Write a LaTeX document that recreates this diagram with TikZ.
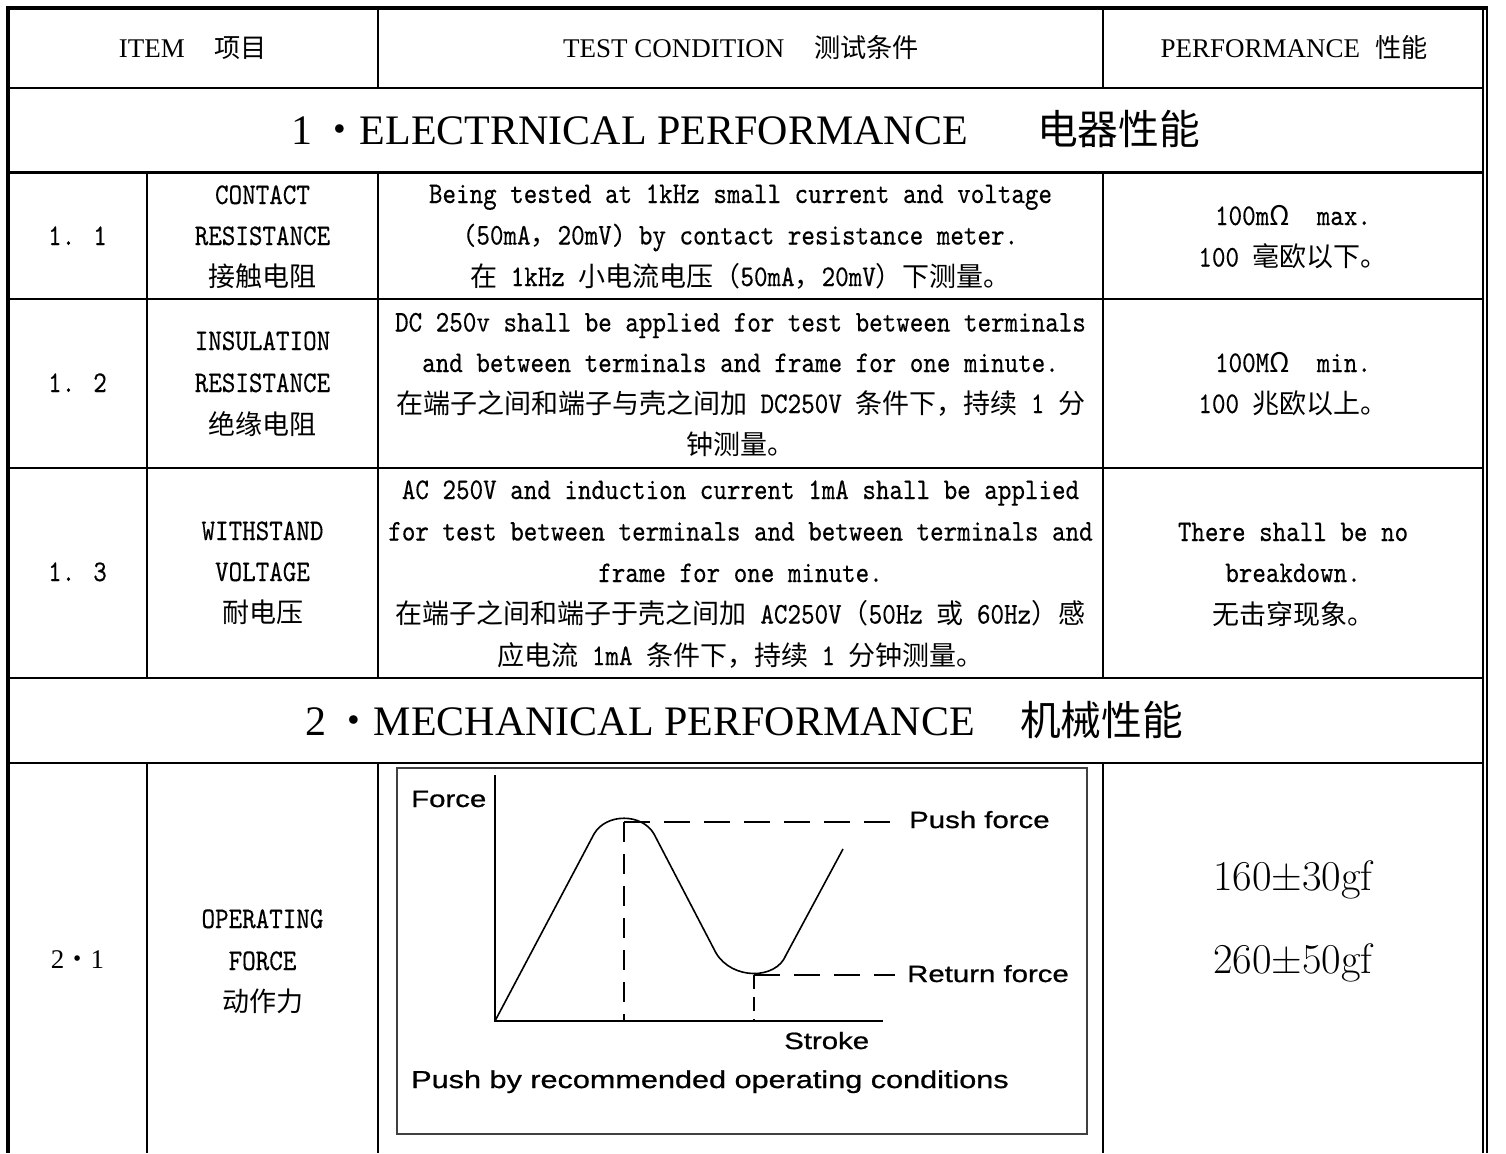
\documentclass[tikz,border=0pt]{standalone}
\usepackage{fontspec}
\newfontfamily\serf{Liberation Serif}
\newfontfamily\monof[FakeStretch=0.86,FakeBold=0.3]{lmmono10-regular.otf}
\newfontfamily\cjkf[Scale=0.97]{Noto Sans CJK SC}
\newfontfamily\cjkb[Scale=0.9]{Noto Sans CJK SC}
\newfontfamily\chartf[FakeStretch=1.25,FakeBold=0.8]{Liberation Sans}
\let\cjfont\cjkf
\newcommand\cj[1]{{\cjfont #1}}
\tikzset{
  gridline/.style={line width=2.4pt},
  outerline/.style={line width=4pt},
  body/.style={font=\monof\fontsize{30}{34}\selectfont\let\cjfont\cjkb, anchor=base, inner sep=0pt},
  headtxt/.style={font=\serf\fontsize{27}{32}\selectfont, anchor=base, inner sep=0pt},
  titletxt/.style={font=\serf\fontsize{42}{50}\selectfont, inner sep=0pt},
  chartlbl/.style={font=\chartf\fontsize{23.5}{28}\selectfont, anchor=base west, inner sep=0pt},
  bigtxt/.style={font=\rmfamily\fontsize{42.5}{48}\selectfont, anchor=base, inner sep=0pt}
}
\begin{document}
\begin{tikzpicture}[x=1pt,y=-1pt]
\useasboundingbox (0,0) rectangle (1506,1153);
\fill[white] (0,0) rectangle (1506,1153);
% outer frame
\draw[outerline] (8,6) -- (8,1153);
\draw[outerline] (6,8) -- (1488,8);
\draw[line width=1.8pt] (1483.2,6) -- (1483.2,1153);
\draw[line width=1.8pt] (1487,6) -- (1487,1153);
% horizontal rules
\foreach \yy in {88,172.5,299,468,678,763}
  \draw[gridline] (8,\yy) -- (1483.2,\yy);
% vertical rules
\foreach \xx in {378,1103}{
  \draw[gridline] (\xx,8) -- (\xx,88);
  \draw[gridline] (\xx,172.5) -- (\xx,678);
  \draw[gridline] (\xx,763) -- (\xx,1153);
}
\draw[gridline] (147,172.5) -- (147,678);
\draw[gridline] (147,763) -- (147,1153);

% header
\node[headtxt] (h1) at (193,58) {ITEM\hspace{1.1em}\cj{项目}};
\node[headtxt] (h2) at (741,58) {TEST CONDITION\hspace{1.1em}\cj{测试条件}};
\node[headtxt] (h3) at (1294,58) {PERFORMANCE\hspace{0.55em}\cj{性能}};

% section titles
\node[titletxt, anchor=base east] (s1a) at (968,144) {1\hspace{0.15em}\cj{・}ELECTRNICAL PERFORMANCE};
\node[titletxt, anchor=base west] (s1b) at (1037,144) {\cj{电器性能}};
\node[titletxt, anchor=base east] (s2a) at (975,735) {2\hspace{0.15em}\cj{・}MECHANICAL PERFORMANCE};
\node[titletxt, anchor=base west] (s2b) at (1020,735) {\cj{机械性能}};

% row 1.1
\node[body] (n11) at (77.5,245) {1. 1};
\node[body] (i11a) at (262.5,204) {CONTACT};
\node[body] (i11b) at (262.5,245) {RESISTANCE};
\node[body] (i11c) at (262.5,286) {\cj{接触电阻}};
\node[body] (c11a) at (740.5,203) {Being tested at 1kHz small current and voltage};
\node[body] (c11b) at (740.5,244.5) {(50mA\cj{，}20mV) by contact resistance meter.};
\node[body] (c11c) at (740.5,286) {\cj{在} 1kHz \cj{小电流电压（}50mA\cj{，}20mV\cj{）下测量。}};
\node[body] (p11a) at (1293,225) {100m\cj{Ω}\ \ max.};
\node[body] (p11b) at (1293,266.5) {100 \cj{毫欧以下。}};

% row 1.2
\node[body] (n12) at (77.5,392) {1. 2};
\node[body] (i12a) at (262.5,350) {INSULATION};
\node[body] (i12b) at (262.5,392) {RESISTANCE};
\node[body] (i12c) at (262.5,434) {\cj{绝缘电阻}};
\node[body] (c12a) at (740.5,331.5) {DC 250v shall be applied for test between terminals};
\node[body] (c12b) at (740.5,372) {and between terminals and frame for one minute.};
\node[body] (c12c) at (740.5,413) {\cj{在端子之间和端子与壳之间加} DC250V \cj{条件下，持续} 1 \cj{分}};
\node[body] (c12d) at (740.5,454.5) {\cj{钟测量。}};
\node[body] (p12a) at (1293,372) {100M\cj{Ω}\ \ min.};
\node[body] (p12b) at (1293,413) {100 \cj{兆欧以上。}};

% row 1.3
\node[body] (n13) at (77.5,581) {1. 3};
\node[body] (i13a) at (262.5,540) {WITHSTAND};
\node[body] (i13b) at (262.5,581) {VOLTAGE};
\node[body] (i13c) at (262.5,622) {\cj{耐电压}};
\node[body] (c13a) at (740.5,499) {AC 250V and induction current 1mA shall be applied};
\node[body] (c13b) at (740.5,540.5) {for test between terminals and between terminals and};
\node[body] (c13c) at (740.5,582) {frame for one minute.};
\node[body] (c13d) at (740.5,623.5) {\cj{在端子之间和端子于壳之间加} AC250V\cj{（}50Hz \cj{或} 60Hz\cj{）感}};
\node[body] (c13e) at (740.5,665) {\cj{应电流} 1mA \cj{条件下，持续} 1 \cj{分钟测量。}};
\node[body] (p13a) at (1293,541) {There shall be no};
\node[body] (p13b) at (1293,582) {breakdown.};
\node[body] (p13c) at (1293,624) {\cj{无击穿现象。}};

% row 2.1
\node[headtxt] (n21) at (77.5,968) {2\cj{・}1};
\node[body] (i21a) at (262.5,928) {OPERATING};
\node[body] (i21b) at (262.5,970) {FORCE};
\node[body] (i21c) at (262.5,1011) {\cj{动作力}};
\node[bigtxt] (p21a) at (1293,890) {160±30gf};
\node[bigtxt] (p21b) at (1293,973) {260±50gf};

% chart
\draw[draw=black!75, line width=1.5pt] (397,768) rectangle (1087,1134);
\draw[line width=2pt] (495,775) -- (495,1021) -- (883,1021);
\draw[line width=1.6pt, line join=round]
  (495,1021) -- (594,834) .. controls (606,813) and (642,813) .. (654,834)
  -- (716,953) .. controls (732,980) and (776,980) .. (786,955) -- (843,849);
\draw[line width=1.3pt, dash pattern=on 26pt off 14pt] (624,822) -- (895,822);
\draw[line width=2.6pt, dash pattern=on 20pt off 12pt] (624,822) -- (624,1021);
\draw[line width=1.3pt, dash pattern=on 26pt off 14pt] (754,975) -- (895,975);
\draw[line width=1.3pt, dash pattern=on 14pt off 8pt] (754,975) -- (754,1021);
\node[chartlbl] (lforce) at (411,807) {Force};
\node[chartlbl] (lpush) at (909,828) {Push force};
\node[chartlbl] (lret) at (907,982) {Return force};
\node[chartlbl] (lstroke) at (784,1049) {Stroke};
\node[chartlbl, font=\chartf\fontsize{24.5}{28}\selectfont] (lcond) at (411,1088) {Push by recommended operating conditions};
\end{tikzpicture}
\end{document}
